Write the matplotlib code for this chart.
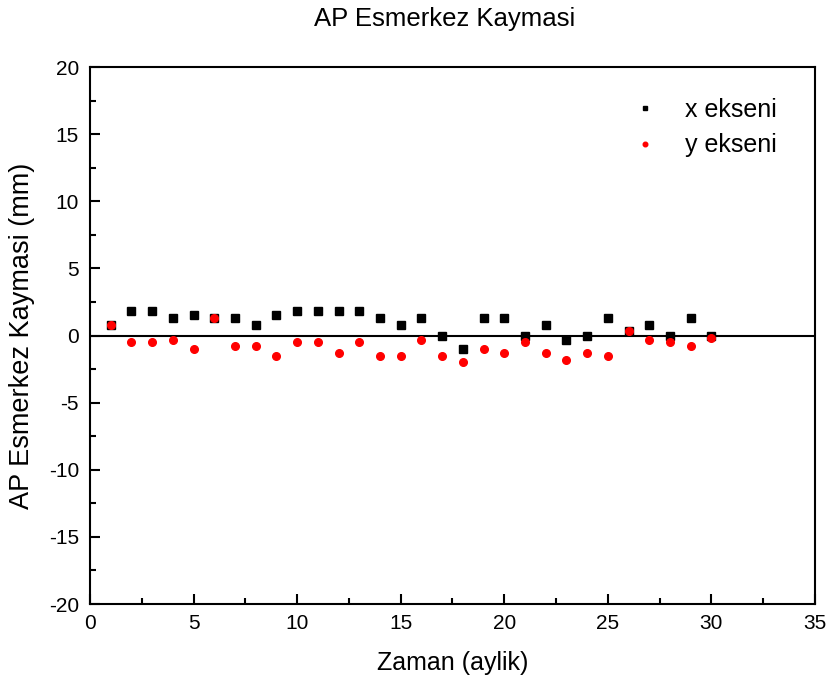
import matplotlib
matplotlib.use('Agg')
import matplotlib.pyplot as plt
from matplotlib.ticker import MultipleLocator

plt.rcParams['font.family'] = ['Liberation Sans', 'DejaVu Sans']
plt.rcParams['axes.unicode_minus'] = False

# zaman (ay)
months = list(range(1, 31))
# x ekseni kaymasi (mm)
x_shift = [0.8, 1.8, 1.8, 1.3, 1.5, 1.3, 1.3, 0.8, 1.5, 1.8,
           1.8, 1.8, 1.8, 1.3, 0.8, 1.3, 0.0, -1.0, 1.3, 1.3,
           0.0, 0.8, -0.3, 0.0, 1.3, 0.3, 0.8, 0.0, 1.3, 0.0]
# y ekseni kaymasi (mm)
y_shift = [0.8, -0.5, -0.5, -0.3, -1.0, 1.3, -0.8, -0.8, -1.5, -0.5,
           -0.5, -1.3, -0.5, -1.5, -1.5, -0.3, -1.5, -2.0, -1.0, -1.3,
           -0.5, -1.3, -1.8, -1.3, -1.5, 0.3, -0.3, -0.5, -0.8, -0.2]

fig = plt.figure(figsize=(8.31, 6.86), dpi=100, facecolor='white')
ax = fig.add_axes([0.1083, 0.1195, 0.8724, 0.7828])

ax.axhline(0, color='black', linewidth=1.5, zorder=1)
ax.plot(months, x_shift, 's', color='black', markersize=5.5, linestyle='none',
        label='x ekseni', zorder=2)
ax.plot(months, y_shift, 'o', color='#ff0000', markersize=5.5, linestyle='none',
        label='y ekseni', zorder=3)

ax.set_xlim(0, 35)
ax.set_ylim(-20, 20)
ax.xaxis.set_major_locator(MultipleLocator(5))
ax.xaxis.set_minor_locator(MultipleLocator(2.5))
ax.yaxis.set_major_locator(MultipleLocator(5))
ax.yaxis.set_minor_locator(MultipleLocator(2.5))
ax.tick_params(which='both', direction='in', top=False, right=False,
               width=1.5, labelsize=15)
ax.tick_params(axis='x', which='major', length=7, pad=7)
ax.tick_params(axis='y', which='major', length=7, pad=8)
ax.tick_params(which='minor', length=4)
for spine in ax.spines.values():
    spine.set_linewidth(1.5)

ax.set_xlabel('Zaman (aylik)', fontsize=18, labelpad=13)
ax.set_ylabel('AP Esmerkez Kaymasi (mm)', fontsize=19.5, labelpad=10)
fig.text(0.535, 0.973, 'AP Esmerkez Kaymasi', ha='center', va='center', fontsize=18.5)

ax.legend(loc='upper right', frameon=False, fontsize=18, markerscale=0.6,
          handletextpad=0.6, labelspacing=0.45, bbox_to_anchor=(0.978, 0.984))

fig.savefig('out.png', dpi=100)
